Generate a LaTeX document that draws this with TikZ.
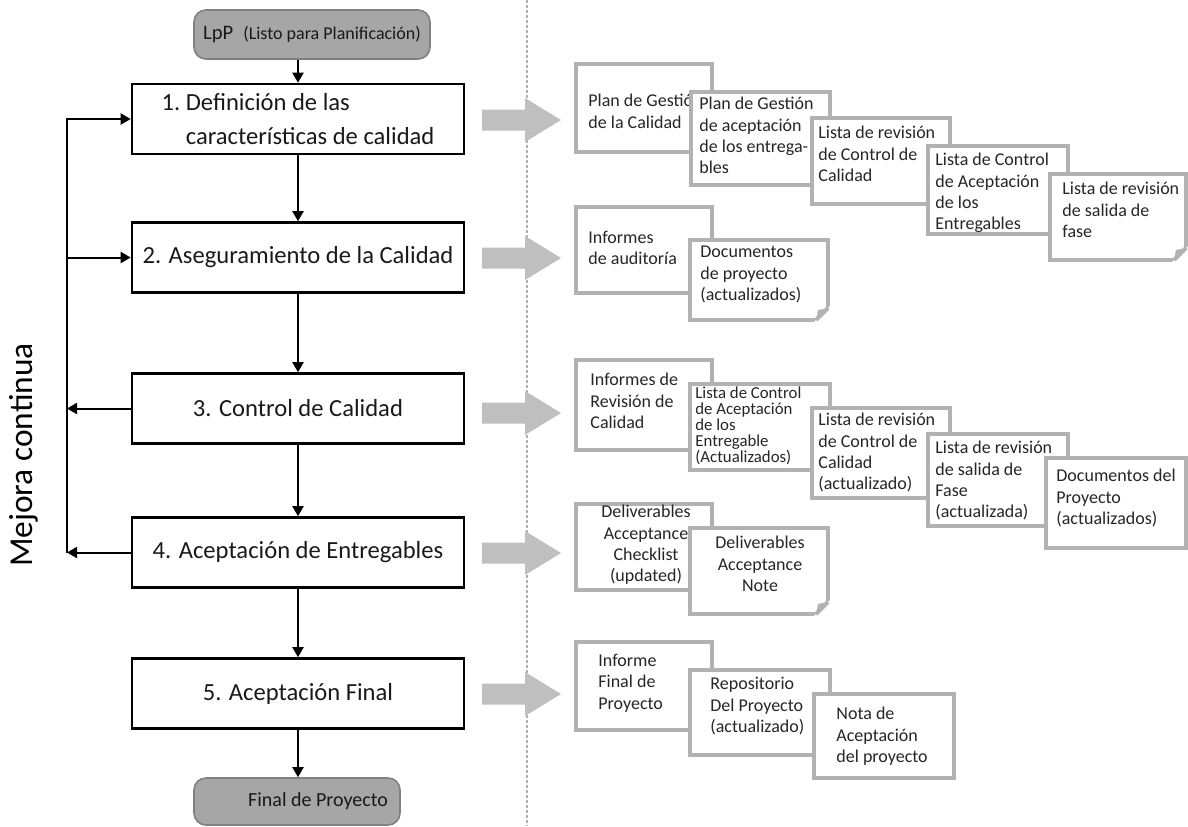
\documentclass[tikz,border=0pt]{standalone}
\usepackage{fontspec}
\setmainfont{Carlito}
\usetikzlibrary{calc,arrows.meta,positioning}
\definecolor{docgray}{RGB}{178,178,178}
\definecolor{arrowgray}{RGB}{191,191,191}
\definecolor{sepgray}{RGB}{175,175,175}
\definecolor{termfill}{RGB}{166,166,166}
\definecolor{termdraw}{RGB}{128,128,128}
\tikzset{>={Triangle[length=5pt,width=5.5pt]}}
\tikzset{
  procbox/.style={draw,line width=1.3pt,minimum width=166pt,minimum height=35pt,
    font=\fontsize{12.3}{17}\selectfont,text=black!90},
  term/.style={draw=termdraw,fill=termfill,rounded corners=6pt,line width=0.8pt,text=black!90},
  flow/.style={->,line width=1pt},
  doc/.style={draw=docgray,line width=2pt,fill=white},
  doctext/.style={anchor=north west,inner sep=0pt,align=left,
    font=\fontsize{9}{10.6}\selectfont,text=black!85},
  blockarrow/.style={fill=arrowgray},
  sep/.style={draw=sepgray,line width=1pt,dash pattern=on 1.5pt off 1pt}
}
% document sheet: [text options]{name}{x,y}{w}{h}{text offset}{text}
\newcommand{\docbox}[7][]{%
  \draw[doc] (#3) rectangle ++(#4,#5);
  \node[doctext,#1] (#2) at ($(#3)+(#6)$) {#7};}
% folded corner: {x,y}{w}{h}
\newcommand{\docfold}[3]{%
  \fill[white] ($(#1)+(#2,#3)+(3,-15)$) -- ++(0,18) -- ++(-18,0) -- cycle;
  \draw[doc] ($(#1)+(#2,#3)+(0,-12)$) -- ++(-12,12);
  \fill[docgray] ($(#1)+(#2,#3)+(0,-12)$) -- ++(-12,12) -- ++(2,-10) -- cycle;}

\begin{document}
\begin{tikzpicture}[x=0.5pt,y=-0.5pt]
\useasboundingbox (0,0) rectangle (1188,826);
% process column
\node[term,minimum width=118pt,minimum height=24.5pt] (lpp) at (312,34.5)
  {{\fontsize{10.3}{12}\selectfont LpP}\hspace{5pt}{\fontsize{9}{11}\selectfont (Listo para Planificación)}};
\node[procbox,align=left] (q1) at (298,119) {1.~Definición de las\\\phantom{1.~}características de calidad};
\node[procbox] (q2) at (298,257.5) {2. Aseguramiento de la Calidad};
\node[procbox] (q3) at (298,408.5) {3. Control de Calidad};
\node[procbox] (q4) at (298,552.5) {4. Aceptación de Entregables};
\node[procbox] (q5) at (298,693.5) {5. Aceptación Final};
\node[term,minimum width=103pt,minimum height=23.5pt,font=\fontsize{10}{12}\selectfont] (fin) at (297,801.5)
  {\hspace*{21pt}Final de Proyecto};
\draw[flow] (lpp.south -| q1.north) -- (q1.north);
\foreach \a/\b in {q1/q2,q2/q3,q3/q4,q4/q5,q5/fin}
  \draw[flow] (\a.south) -- (\a.south |- \b.north);
% feedback loop
\coordinate (fb) at (67,0);
\draw[flow] (fb |- q4.west) -- (fb |- q1.west) -- (q1.west);
\draw[flow] (fb |- q2.west) -- (q2.west);
\draw[flow] (q3.west) -- (fb |- q3.west);
\draw[flow] (q4.west) -- (fb |- q4.west);
\node[rotate=90,font=\fontsize{16.7}{20}\selectfont] (mejora) at (24,455) {Mejora continua};
% separator and outputs
\draw[sep] (527,0) -- (527,826);
\foreach \y in {120,258,413,553,694}
  \fill[blockarrow] (482,\y-10.5) -- (525,\y-10.5) -- (525,\y-22) -- (561,\y)
    -- (525,\y+22) -- (525,\y+10.5) -- (482,\y+10.5) -- cycle;
% outputs of 1
\docbox{pgc}{576,64}{136}{88}{12,30}{Plan de Gestión\\de la Calidad}
\docbox{pga}{691,92}{139}{93}{8,5}{Plan de Gestión\\de aceptación\\de los entrega-\\bles}
\docbox{lrc}{812,118}{138}{86}{6,8}{Lista de revisión\\de Control de\\Calidad}
\docbox{lca}{928,146}{140}{88}{7,7}{Lista de Control\\de Aceptación\\de los\\Entregables}
\docbox{lrs}{1050,174}{136}{86}{12,8}{Lista de revisión\\de salida de\\fase}
\docfold{1050,174}{136}{86}
% outputs of 2
\docbox{iau}{576,207}{136}{86}{12,24}{Informes\\de auditoría}
\docbox{dpa}{690,240}{138}{80}{10,6}{Documentos\\de proyecto\\(actualizados)}
\docfold{690,240}{138}{80}
% outputs of 3
\docbox{irc}{576,360}{136}{90}{14,13}{Informes de\\Revisión de\\Calidad}
\docbox[font=\fontsize{8.4}{8}\selectfont]{lcae}{690,384}{140}{86}{5,2}{Lista de Control\\de Aceptación\\de los\\Entregable\\(Actualizados)}
\docbox{lrca}{812,408}{138}{90}{6,5}{Lista de revisión\\de Control de\\Calidad\\(actualizado)}
\docbox{lrsa}{928,434}{140}{92}{7,7}{Lista de revisión\\de salida de\\Fase\\(actualizada)}
\docbox{dpra}{1046,458}{140}{90}{10,11}{Documentos del\\Proyecto\\(actualizados)}
% outputs of 4
\docbox[align=center,anchor=north]{dac}{576,504}{136}{86}{70,1}{Deliverables\\Acceptance\\Checklist\\(updated)}
\docbox[align=center,anchor=north]{dan}{690,528}{138}{86}{70,8}{Deliverables\\Acceptance\\Note}
\docfold{690,528}{138}{86}
% outputs of 5
\docbox{ifp}{576,642}{136}{88}{22,12}{Informe\\Final de\\Proyecto}
\docbox{rpa}{690,670}{140}{85}{20,7}{Repositorio\\Del Proyecto\\(actualizado)}
\docbox{nap}{814,694}{140}{84}{22,13}{Nota de\\Aceptación\\del proyecto}
\end{tikzpicture}
\end{document}
